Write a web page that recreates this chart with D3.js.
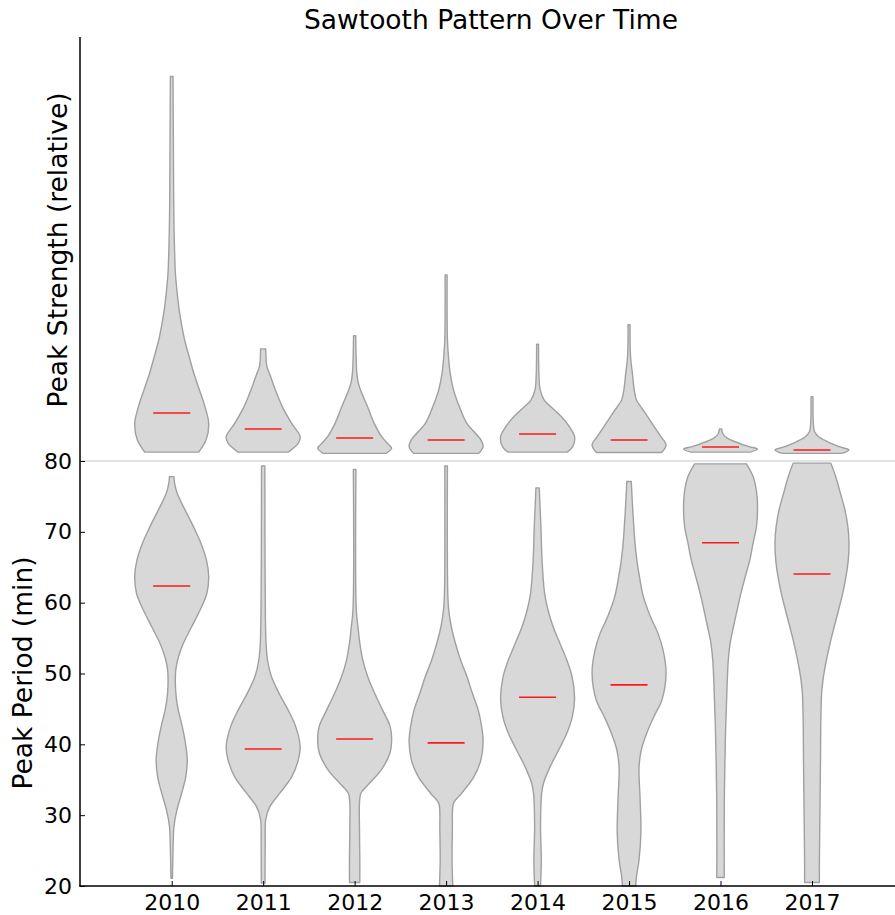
<!DOCTYPE html>
<html>
<head>
<meta charset="utf-8">
<script src="https://cdn.jsdelivr.net/npm/d3@7"></script>
<style>
  body { margin: 0; background: #fff; }
  svg { display: block; }
  text { font-family: "DejaVu Sans", sans-serif; fill: #000; }
</style>
</head>
<body>
<svg id="chart" width="895" height="915"></svg>
<script>
// Years along the x axis
const years = ["2010", "2011", "2012", "2013", "2014", "2015", "2016", "2017"];

// Peak period density outlines: [minutes, relative half-width]
const periodProfiles = [
  [[77.8,0.06],[76.8,0.08],[75.4,0.15],[73.1,0.36],[70.7,0.59],[68.4,0.79],[66.0,0.94],[63.7,1.0],[61.3,0.95],[59.0,0.77],[56.6,0.54],[54.3,0.32],[52.3,0.18],[50.5,0.11],[48.3,0.1],[46.3,0.13],[44.8,0.18],[42.4,0.29],[40.2,0.37],[37.8,0.42],[35.4,0.38],[33.1,0.27],[30.7,0.14],[28.4,0.06],[26.0,0.04],[21.1,0.02]],
  [[79.3,0.045],[66.0,0.05],[58.0,0.06],[54.0,0.08],[51.8,0.12],[49.6,0.22],[47.2,0.43],[44.8,0.68],[42.5,0.88],[39.7,1.0],[37.8,0.95],[35.4,0.77],[33.1,0.45],[31.2,0.18],[29.4,0.07],[26.0,0.055],[20.4,0.05]],
  [[78.8,0.035],[59.0,0.045],[56.6,0.09],[54.3,0.14],[51.9,0.22],[49.6,0.35],[47.2,0.54],[44.8,0.76],[42.5,0.96],[40.85,1.0],[38.7,0.95],[36.4,0.72],[34.5,0.4],[33.1,0.17],[31.7,0.13],[28.4,0.13],[23.7,0.14],[20.5,0.14]],
  [[79.3,0.035],[61.3,0.045],[59.0,0.07],[56.6,0.14],[54.3,0.25],[51.9,0.39],[49.6,0.56],[47.2,0.71],[44.8,0.87],[42.5,0.96],[40.4,1.0],[37.8,0.94],[35.4,0.75],[33.1,0.42],[31.7,0.2],[30.3,0.17],[28.4,0.17],[23.7,0.16],[20.0,0.18]],
  [[76.2,0.045],[73.1,0.07],[70.7,0.09],[66.0,0.12],[61.3,0.19],[59.0,0.28],[56.6,0.42],[54.3,0.6],[51.9,0.79],[49.6,0.93],[46.5,1.0],[43.9,0.94],[41.55,0.79],[39.2,0.57],[36.85,0.34],[34.5,0.16],[33.1,0.11],[28.4,0.08],[23.7,0.1],[20.0,0.08]],
  [[77.1,0.06],[73.1,0.1],[68.4,0.16],[66.0,0.21],[63.7,0.28],[61.0,0.38],[58.0,0.58],[55.7,0.78],[53.3,0.92],[50.1,1.0],[46.3,0.89],[43.9,0.67],[41.6,0.48],[39.2,0.33],[36.8,0.27],[32.1,0.3],[27.5,0.32],[23.7,0.27],[21.3,0.2],[20.0,0.18]],
  [[79.6,0.70],[77.8,0.88],[75.4,0.98],[73.1,1.0],[70.7,0.97],[68.4,0.88],[66.0,0.79],[63.7,0.67],[61.3,0.55],[59.0,0.45],[56.6,0.35],[54.3,0.26],[51.9,0.21],[47.2,0.17],[42.5,0.14],[37.8,0.12],[33.1,0.105],[28.4,0.1],[21.2,0.1]],
  [[79.7,0.51],[77.8,0.64],[75.4,0.77],[73.1,0.89],[70.7,0.97],[68.4,1.0],[66.0,0.98],[63.7,0.92],[61.3,0.83],[59.0,0.72],[56.6,0.6],[54.3,0.49],[51.9,0.39],[49.55,0.31],[47.2,0.26],[44.85,0.245],[42.5,0.236],[37.8,0.23],[33.1,0.22],[28.4,0.21],[23.7,0.2],[20.5,0.2]]
];
const periodMedians = [62.35, 39.35, 40.75, 40.2, 46.65, 48.4, 68.45, 64.05];

// Peak strength density outlines: [relative strength, relative half-width]
const strengthProfiles = [
  [[9.09,0.036],[7.59,0.045],[6.01,0.055],[5.23,0.07],[4.44,0.1],[4.04,0.14],[3.65,0.19],[3.26,0.26],[2.86,0.35],[2.47,0.47],[2.07,0.6],[1.68,0.75],[1.28,0.9],[0.89,1.0],[0.50,0.93],[0.21,0.73]],
  [[2.65,0.07],[2.47,0.075],[2.23,0.1],[2.07,0.17],[1.68,0.33],[1.28,0.52],[0.89,0.77],[0.575,1.0],[0.42,0.95],[0.21,0.68]],
  [[2.96,0.03],[2.47,0.04],[2.07,0.06],[1.84,0.1],[1.68,0.16],[1.28,0.35],[0.89,0.53],[0.575,0.73],[0.38,0.93],[0.30,1.0],[0.18,0.85]],
  [[4.40,0.027],[2.86,0.036],[2.47,0.064],[2.07,0.11],[1.68,0.2],[1.28,0.36],[0.89,0.56],[0.65,0.8],[0.50,0.94],[0.34,1.0],[0.18,0.88]],
  [[2.76,0.027],[2.07,0.036],[1.68,0.07],[1.44,0.18],[1.28,0.36],[1.05,0.64],[0.81,0.86],[0.575,1.0],[0.34,0.95],[0.21,0.8]],
  [[3.22,0.027],[2.47,0.04],[2.07,0.09],[1.68,0.14],[1.44,0.2],[1.28,0.32],[1.05,0.5],[0.81,0.68],[0.575,0.86],[0.38,1.0],[0.20,0.88]],
  [[0.76,0.03],[0.65,0.06],[0.54,0.18],[0.42,0.5],[0.34,0.77],[0.28,1.0],[0.21,0.8]],
  [[1.52,0.027],[0.89,0.036],[0.69,0.07],[0.575,0.18],[0.46,0.41],[0.34,0.73],[0.26,1.0],[0.18,0.8]]
];
const strengthMedians = [1.135, 0.757, 0.544, 0.496, 0.638, 0.496, 0.331, 0.26];

// Tick values for the peak period axis
const periodTicks = [20, 30, 40, 50, 60, 70, 80];

const svg = d3.select("#chart");

const x = d3.scalePoint().domain(years).range([171.7, 812]);
const halfWidth = d3.scaleLinear().domain([0, 1]).range([0, 37]);
const yPeriod = d3.scaleLinear().domain([20, 80]).range([886, 461]);
const yStrength = d3.scaleLinear().domain([0, 10]).range([461, 38]);

function violinArea(cx, yScale) {
  return d3.area()
    .curve(d3.curveCatmullRom.alpha(0.5))
    .y(d => yScale(d[0]))
    .x0(d => cx - halfWidth(d[1]))
    .x1(d => cx + halfWidth(d[1]));
}

function drawViolins(profiles, medians, yScale, cls) {
  const g = svg.append("g").attr("class", cls);
  years.forEach((yr, i) => {
    const cx = x(yr);
    g.append("path")
      .attr("d", violinArea(cx, yScale)(profiles[i]) + "Z")
      .attr("fill", "#d8d8d8")
      .attr("stroke", "#a0a0a0")
      .attr("stroke-width", 1.4)
      .attr("stroke-linejoin", "round");
    g.append("line")
      .attr("x1", cx - halfWidth(0.5))
      .attr("x2", cx + halfWidth(0.5))
      .attr("y1", yScale(medians[i]))
      .attr("y2", yScale(medians[i]))
      .attr("stroke", "#ff1a1a")
      .attr("stroke-width", 1.6);
  });
}

// Divider between the two panels
svg.append("line")
  .attr("x1", 80).attr("x2", 895)
  .attr("y1", yPeriod(80)).attr("y2", yPeriod(80))
  .attr("stroke", "#c8c8c8").attr("stroke-width", 1.2);

drawViolins(strengthProfiles, strengthMedians, yStrength, "strength");
drawViolins(periodProfiles, periodMedians, yPeriod, "period");

// Left axis (peak period ticks, inward)
const yAxis = svg.append("g")
  .attr("transform", "translate(80,0)")
  .call(d3.axisLeft(yPeriod).tickValues(periodTicks).tickSizeInner(-5).tickSizeOuter(0).tickPadding(8));
yAxis.select(".domain").remove();
yAxis.selectAll(".tick line").attr("stroke", "#000").attr("stroke-width", 1);
yAxis.selectAll(".tick text").style("font-size", "22px").style("font-family", "DejaVu Sans, sans-serif").attr("fill", "#1a1a1a");

// Bottom axis (years, inward ticks)
const xAxis = svg.append("g")
  .attr("transform", "translate(0,886)")
  .call(d3.axisBottom(x).tickSizeInner(-5).tickSizeOuter(0).tickPadding(8));
xAxis.select(".domain").remove();
xAxis.selectAll(".tick line").attr("stroke", "#000").attr("stroke-width", 1);
xAxis.selectAll(".tick text").style("font-size", "22px").style("font-family", "DejaVu Sans, sans-serif").attr("fill", "#1a1a1a");

// Spines
svg.append("line").attr("x1", 80).attr("x2", 80).attr("y1", 37).attr("y2", 886.5)
  .attr("stroke", "#000").attr("stroke-width", 1.5);
svg.append("line").attr("x1", 79.25).attr("x2", 895).attr("y1", 886).attr("y2", 886)
  .attr("stroke", "#000").attr("stroke-width", 1.5);

// Title and axis labels
svg.append("text")
  .attr("x", 491).attr("y", 29)
  .attr("text-anchor", "middle")
  .style("font-size", "26.5px")
  .text("Sawtooth Pattern Over Time");

svg.append("text")
  .attr("transform", "translate(67,250) rotate(-90)")
  .attr("text-anchor", "middle")
  .style("font-size", "26.5px")
  .text("Peak Strength (relative)");

svg.append("text")
  .attr("transform", "translate(32,673) rotate(-90)")
  .attr("text-anchor", "middle")
  .style("font-size", "26.5px")
  .text("Peak Period (min)");
</script>
</body>
</html>
